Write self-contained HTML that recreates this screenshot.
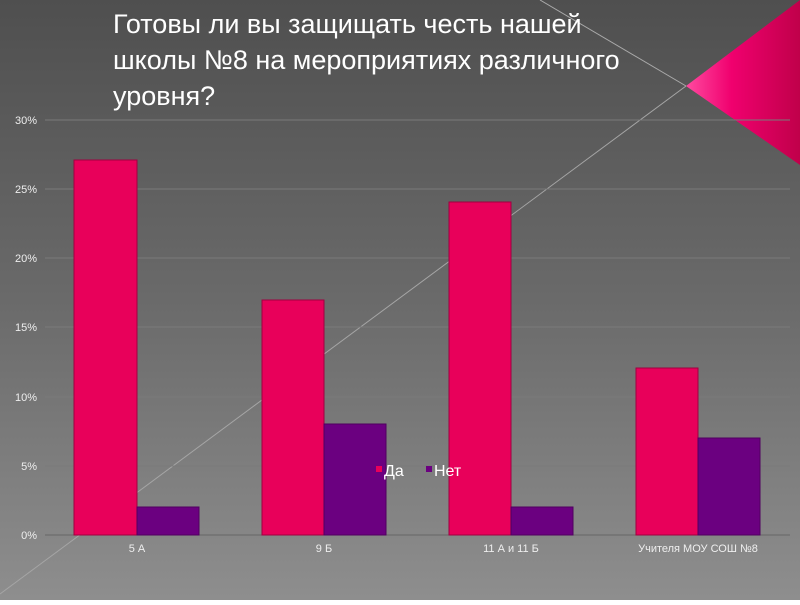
<!DOCTYPE html>
<html><head><meta charset="utf-8"><style>
body{margin:0;width:800px;height:600px;overflow:hidden;font-family:"Liberation Sans",sans-serif}
</style></head><body>
<svg width="800" height="600" xmlns="http://www.w3.org/2000/svg">
<defs>
<linearGradient id="bg" x1="0" y1="0" x2="0" y2="1"><stop offset="0" stop-color="#4f4f4f"/><stop offset="0.5" stop-color="#6a6a6a"/><stop offset="1" stop-color="#8e8e8e"/></linearGradient>
<linearGradient id="pk" x1="0" y1="0" x2="1" y2="0"><stop offset="0" stop-color="#ff4aa0"/><stop offset="0.4" stop-color="#f0006e"/><stop offset="1" stop-color="#c0004a"/></linearGradient>
</defs>
<rect width="800" height="600" fill="url(#bg)"/>
<polygon points="686,86 800,0 800,165" fill="url(#pk)"/>
<line x1="540" y1="0" x2="686" y2="86" stroke="#aaa" stroke-width="1"/>
<line x1="686" y1="86" x2="0" y2="594" stroke="#a5a5a5" stroke-width="1"/>
<text font-size="27" fill="#fff"><tspan x="113" y="33">Готовы ли вы защищать честь нашей</tspan><tspan x="113" y="69">школы №8 на мероприятиях различного</tspan><tspan x="113" y="105">уровня?</tspan></text>
<g stroke="#7a7a7a" stroke-width="1">
<line x1="45" y1="120" x2="790" y2="120"/><line x1="45" y1="189" x2="790" y2="189"/><line x1="45" y1="258" x2="790" y2="258"/><line x1="45" y1="327" x2="790" y2="327"/><line x1="45" y1="397" x2="790" y2="397"/><line x1="45" y1="466" x2="790" y2="466"/><line x1="45" y1="535" x2="790" y2="535" stroke="#666"/>
</g>
<g font-size="11" fill="#eee" text-anchor="end">
<text x="37" y="124">30%</text><text x="37" y="193">25%</text><text x="37" y="262">20%</text><text x="37" y="331">15%</text><text x="37" y="401">10%</text><text x="37" y="470">5%</text><text x="37" y="539">0%</text>
</g>
<g fill="#e8005a" stroke="#a00040" stroke-width="1">
<rect x="74" y="160" width="63" height="375"/><rect x="262" y="300" width="62" height="235"/><rect x="449" y="202" width="62" height="333"/><rect x="636" y="368" width="62" height="167"/>
</g>
<g fill="#6b0080" stroke="#500060" stroke-width="1">
<rect x="137" y="507" width="62" height="28"/><rect x="324" y="424" width="62" height="111"/><rect x="511" y="507" width="62" height="28"/><rect x="698" y="438" width="62" height="97"/>
</g>
<g font-size="11" fill="#eee" text-anchor="middle">
<text x="137" y="552">5 А</text><text x="324" y="552">9 Б</text><text x="511" y="552">11 А и 11 Б</text><text x="698" y="552">Учителя МОУ СОШ №8</text>
</g>
<rect x="376" y="466" width="6" height="6" fill="#e8005a"/>
<text x="384" y="476" font-size="16" fill="#fff">Да</text>
<rect x="426" y="466" width="6" height="6" fill="#6b0080"/>
<text x="434" y="476" font-size="16" fill="#fff">Нет</text>
</svg>
</body></html>
